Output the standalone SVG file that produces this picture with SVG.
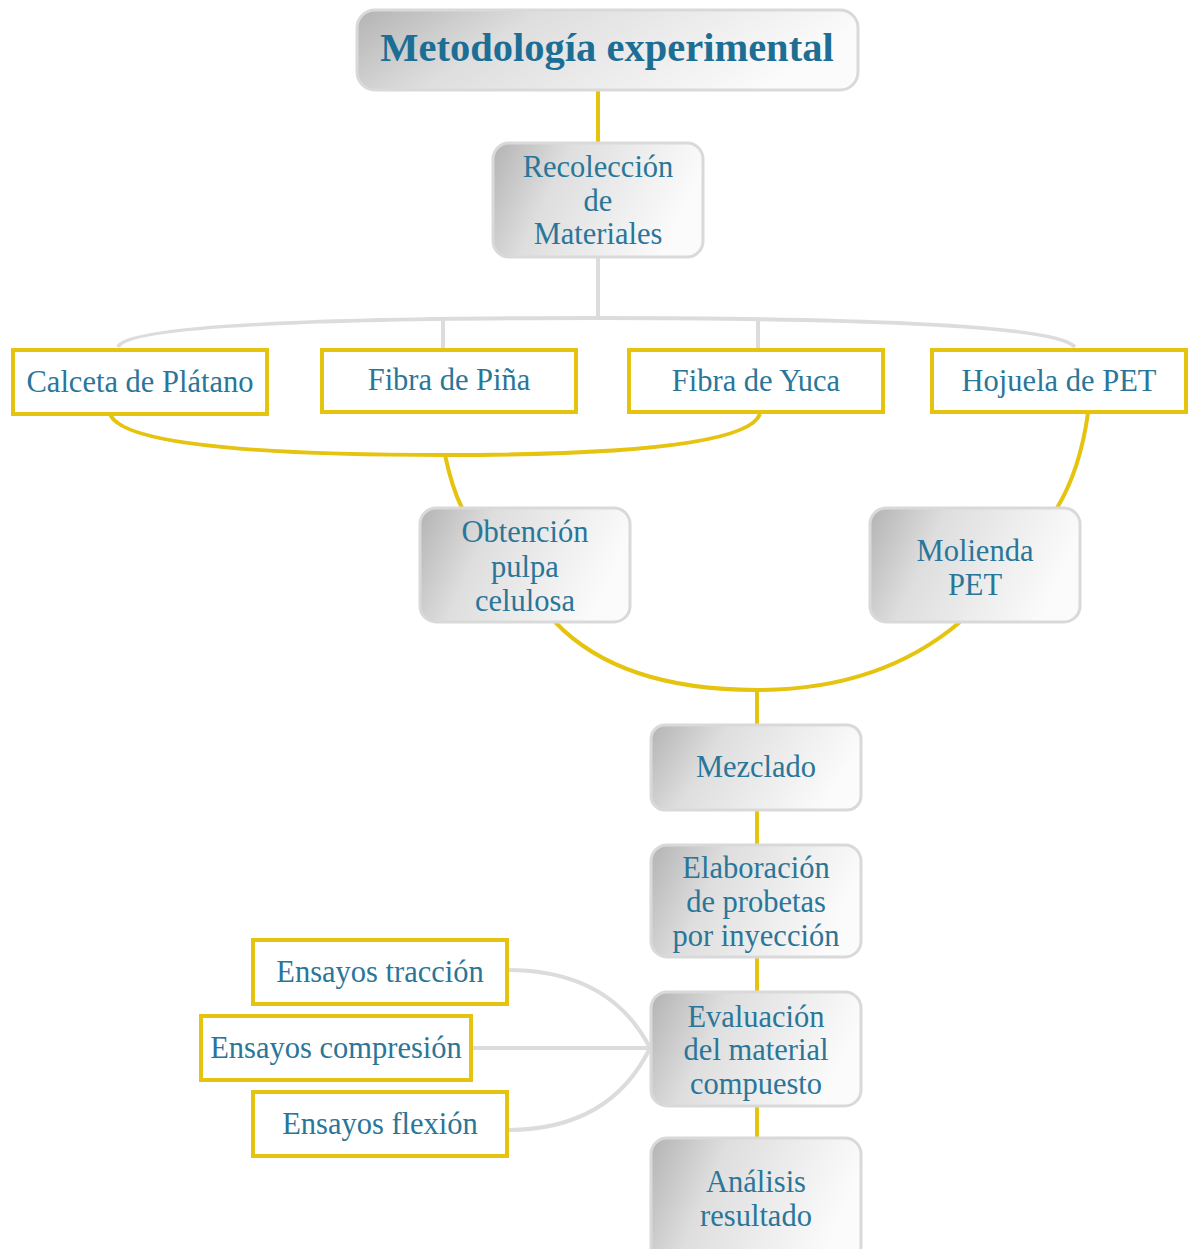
<svg xmlns="http://www.w3.org/2000/svg" width="1191" height="1249" viewBox="0 0 1191 1249">
<defs>
<linearGradient id="g" x1="0" y1="0" x2="1" y2="0.25">
<stop offset="0" stop-color="#b3b3b3"/>
<stop offset="0.35" stop-color="#dedede"/>
<stop offset="1" stop-color="#fbfbfb"/>
</linearGradient>
</defs>
<style>
.gb{fill:url(#g);stroke:#d9d9d9;stroke-width:3}
.yb{fill:#ffffff;stroke:#e5c30f;stroke-width:4}
.t{font-family:"Liberation Serif",serif;font-size:30.5px;fill:#2a7699;text-anchor:middle;dominant-baseline:central}
.ttl{font-family:"Liberation Serif",serif;font-size:40.5px;font-weight:bold;fill:#1d6e95;text-anchor:middle;dominant-baseline:central}
.y{fill:none;stroke:#e5c30f;stroke-width:4}
.gr{fill:none;stroke:#dcdcdc;stroke-width:4}
</style>
<rect width="1191" height="1249" fill="#ffffff"/>
<g id="connectors">
<path class="y" d="M598,90 V143"/>
<path class="gr" d="M598,257 V318"/>
<path class="gr" d="M118,347 Q130,318 598,318 Q1050,318 1075,347"/>
<path class="gr" d="M443,320 V350"/>
<path class="gr" d="M758,320 V350"/>
<path class="y" d="M110,414 Q125,455 445,455 Q745,455 760,414"/>
<path class="y" d="M445,455 Q452,488 462,508"/>
<path class="y" d="M1088,413 Q1080,470 1057,508"/>
<path class="y" d="M555,622 Q620,690 757,690 Q880,690 960,622"/>
<path class="y" d="M757,690 V725"/>
<path class="y" d="M757,810 V845"/>
<path class="y" d="M757,957 V992"/>
<path class="y" d="M757,1106 V1138"/>
<path class="gr" d="M507,970 Q610,970 650,1048"/>
<path class="gr" d="M471,1048 H650"/>
<path class="gr" d="M507,1130 Q610,1130 650,1048"/>
</g>
<g id="n-title"><rect class="gb" x="357" y="10" width="501" height="80" rx="18"/><text class="ttl" x="607" y="47">Metodología experimental</text></g>
<g id="n-recoleccion"><rect class="gb" x="493" y="143" width="210" height="114" rx="16"/><text class="t" x="598" y="167">Recolección</text><text class="t" x="598" y="201">de</text><text class="t" x="598" y="234">Materiales</text></g>
<g id="n-calceta"><rect class="yb" x="13" y="350" width="254" height="64"/><text class="t" x="140" y="382">Calceta de Plátano</text></g>
<g id="n-pina"><rect class="yb" x="322" y="350" width="254" height="62"/><text class="t" x="449" y="380">Fibra de Piña</text></g>
<g id="n-yuca"><rect class="yb" x="629" y="350" width="254" height="62"/><text class="t" x="756" y="381">Fibra de Yuca</text></g>
<g id="n-hojuela"><rect class="yb" x="932" y="350" width="254" height="62"/><text class="t" x="1059" y="381">Hojuela de PET</text></g>
<g id="n-obtencion"><rect class="gb" x="420" y="508" width="210" height="114" rx="16"/><text class="t" x="525" y="532">Obtención</text><text class="t" x="525" y="567">pulpa</text><text class="t" x="525" y="601">celulosa</text></g>
<g id="n-molienda"><rect class="gb" x="870" y="508" width="210" height="114" rx="16"/><text class="t" x="975" y="551">Molienda</text><text class="t" x="975" y="585">PET</text></g>
<g id="n-mezclado"><rect class="gb" x="651" y="725" width="210" height="85" rx="14"/><text class="t" x="756" y="767">Mezclado</text></g>
<g id="n-elaboracion"><rect class="gb" x="651" y="845" width="210" height="112" rx="16"/><text class="t" x="756" y="868">Elaboración</text><text class="t" x="756" y="902">de probetas</text><text class="t" x="756" y="936">por inyección</text></g>
<g id="n-evaluacion"><rect class="gb" x="651" y="992" width="210" height="114" rx="16"/><text class="t" x="756" y="1017">Evaluación</text><text class="t" x="756" y="1050">del material</text><text class="t" x="756" y="1084">compuesto</text></g>
<g id="n-analisis"><rect class="gb" x="651" y="1138" width="210" height="125" rx="16"/><text class="t" x="756" y="1182">Análisis</text><text class="t" x="756" y="1216">resultado</text></g>
<g id="n-traccion"><rect class="yb" x="253" y="940" width="254" height="64"/><text class="t" x="380" y="972">Ensayos tracción</text></g>
<g id="n-compresion"><rect class="yb" x="201" y="1016" width="270" height="64"/><text class="t" x="336" y="1048">Ensayos compresión</text></g>
<g id="n-flexion"><rect class="yb" x="253" y="1092" width="254" height="64"/><text class="t" x="380" y="1124">Ensayos flexión</text></g>
</svg>
